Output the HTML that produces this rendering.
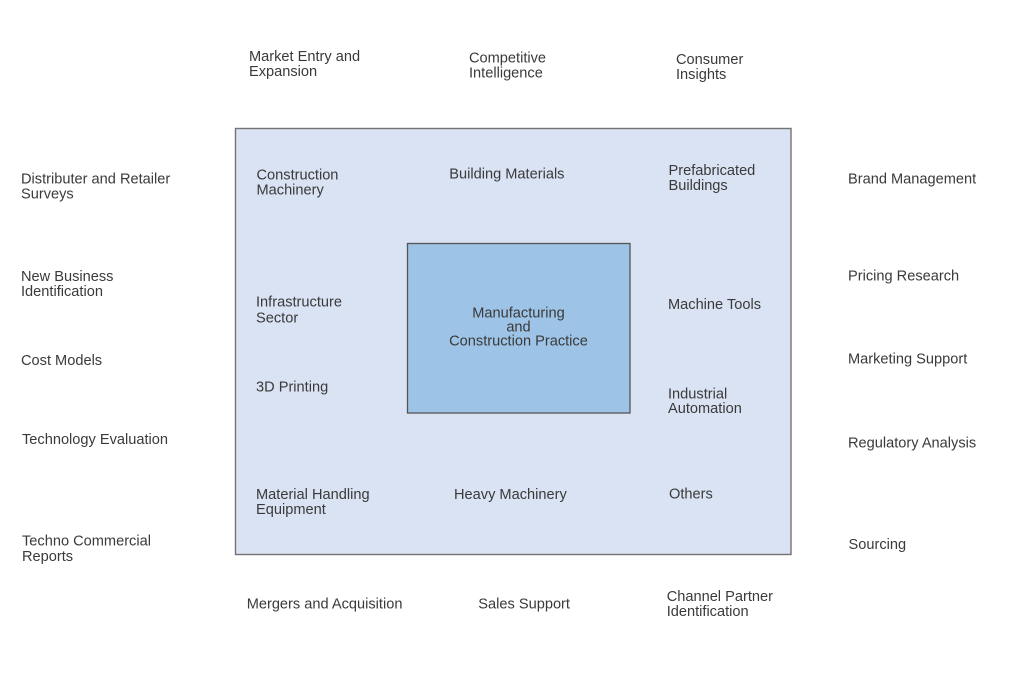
<!DOCTYPE html>
<html>
<head>
<meta charset="utf-8">
<style>
  html, body { margin: 0; padding: 0; background: #ffffff; }
  body { width: 1024px; height: 682px; overflow: hidden; }
  svg { display: block; }
  text { font-family: "Liberation Sans", Arial, sans-serif; font-size: 14.6px; fill: #3a3a3a; }
</style>
</head>
<body>
<svg width="1024" height="682" viewBox="0 0 1024 682" xmlns="http://www.w3.org/2000/svg">
  <rect x="0" y="0" width="1024" height="682" fill="#ffffff"/>
  <!-- outer box -->
  <rect x="235.5" y="128.5" width="555.5" height="426" fill="#dae3f3" stroke="#737373" stroke-width="1.4"/>
  <!-- inner box -->
  <rect x="407.5" y="243.5" width="222.5" height="169.5" fill="#9dc3e6" stroke="#555555" stroke-width="1.3"/>

  <!-- top labels -->
  <text x="249" y="61">Market Entry and</text>
  <text x="249" y="76">Expansion</text>
  <text x="469" y="62.3">Competitive</text>
  <text x="469" y="77.5">Intelligence</text>
  <text x="676" y="64">Consumer</text>
  <text x="676" y="79">Insights</text>

  <!-- left column -->
  <text x="21" y="183.3">Distributer and Retailer</text>
  <text x="21" y="198.5">Surveys</text>
  <text x="21" y="281">New Business</text>
  <text x="21" y="296">Identification</text>
  <text x="21" y="365">Cost Models</text>
  <text x="22" y="444">Technology Evaluation</text>
  <text x="22" y="545.5">Techno Commercial</text>
  <text x="22" y="561">Reports</text>

  <!-- right column -->
  <text x="848" y="183.3">Brand Management</text>
  <text x="848" y="280.7">Pricing Research</text>
  <text x="848" y="363.3">Marketing Support</text>
  <text x="848" y="447.3">Regulatory Analysis</text>
  <text x="848.5" y="549">Sourcing</text>

  <!-- inside outer box -->
  <text x="256.5" y="179.3">Construction</text>
  <text x="256.5" y="194.3">Machinery</text>
  <text x="449.3" y="178.3">Building Materials</text>
  <text x="668.5" y="175">Prefabricated</text>
  <text x="668.5" y="190">Buildings</text>

  <text x="256" y="306.7">Infrastructure</text>
  <text x="256" y="322.3">Sector</text>
  <text x="668" y="309">Machine Tools</text>
  <text x="256" y="391.7">3D Printing</text>
  <text x="668" y="398.3">Industrial</text>
  <text x="668" y="413">Automation</text>

  <text x="256" y="499">Material Handling</text>
  <text x="256" y="514">Equipment</text>
  <text x="454" y="499">Heavy Machinery</text>
  <text x="669" y="498.5">Others</text>

  <!-- center -->
  <text x="518.5" y="317.7" text-anchor="middle">Manufacturing</text>
  <text x="518.5" y="331.5" text-anchor="middle">and</text>
  <text x="518.5" y="345.7" text-anchor="middle">Construction Practice</text>

  <!-- bottom labels -->
  <text x="246.7" y="608.3">Mergers and Acquisition</text>
  <text x="478.3" y="608.3">Sales Support</text>
  <text x="666.7" y="601">Channel Partner</text>
  <text x="666.7" y="616">Identification</text>
</svg>
</body>
</html>
